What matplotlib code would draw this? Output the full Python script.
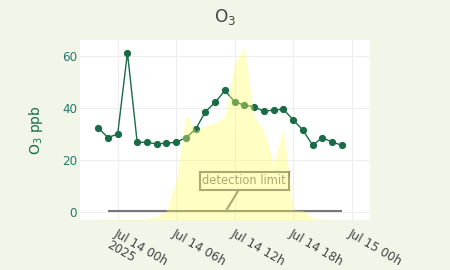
import pandas as pd
import matplotlib
matplotlib.use('Agg')
import matplotlib.pyplot as plt

plt.rcParams['font.family'] = ['DejaVu Sans']

# ozone, hourly
times = pd.date_range('2025-07-13 22:00', '2025-07-14 23:00', freq='h')
o3 = [32.5, 28.7, 30.1, 61.3, 26.9, 26.9, 26.3, 26.6, 26.9, 28.7, 31.9, 38.7, 42.2,
      46.8, 42.4, 41.2, 40.5, 38.8, 39.3, 39.6, 35.5, 31.6, 25.8, 28.7, 27.0, 25.8]

# background sunlight trace (own hidden axis)
sun_times = pd.date_range('2025-07-13 22:00', '2025-07-14 22:00', freq='h')
sun = [0.3, 0.3, 0.3, 0.3, 0.3, 0.4, 1.3, 3.5, 15.3, 40.6, 34.2, 36.2, 37.2,
       39.9, 60.2, 65.8, 39.5, 34.1, 21.7, 34.9, 3.8, 3.6, 0.8, 0.2, 0.2]

det_limit = 0.6
det_times = pd.to_datetime(['2025-07-13 23:00', '2025-07-14 23:00'])
det_note_at = pd.Timestamp('2025-07-14 11:06')

tick_times = pd.to_datetime(['2025-07-14 00:00', '2025-07-14 06:00', '2025-07-14 12:00',
                             '2025-07-14 18:00', '2025-07-15 00:00'])
tick_labels = ['Jul 14 00h\n2025', 'Jul 14 06h', 'Jul 14 12h', 'Jul 14 18h', 'Jul 15 00h']
y_ticks = [0, 20, 40, 60]

bg = '#f1f6e9'
green = '#1a6b47'
gray = '#777777'

fig = plt.figure(figsize=(4.5, 2.7), dpi=100, facecolor=bg)
ax = fig.add_axes([80 / 450, 50 / 270, 290 / 450, 180 / 270])
ax.set_facecolor('white')

ax.plot(times, o3, color=green, lw=1.0, marker='o', ms=4.2, mec=green, mfc=green)
ax.plot(det_times, [det_limit, det_limit], color=gray, lw=1.5, solid_capstyle='butt')
ax.annotate('detection limit', xy=(det_note_at, det_limit), xytext=(13.2, 21.6),
            textcoords='offset points', ha='center', va='center', fontsize=8.3, color=gray,
            bbox=dict(boxstyle='square,pad=0.22', fc='white', ec=gray, lw=1.5),
            arrowprops=dict(arrowstyle='-', color=gray, lw=1.5, shrinkA=0, shrinkB=0))

ax.set_xlim(pd.Timestamp('2025-07-13 20:08'), pd.Timestamp('2025-07-15 01:53'))
ax.set_ylim(-2.88, 66.14)
ax.set_xticks(tick_times)
ax.set_xticklabels(tick_labels, rotation=-30, ha='left', va='top', rotation_mode='anchor',
                   linespacing=1.05)
ax.set_yticks(y_ticks)
ax.tick_params(axis='x', length=0, pad=4.5, labelsize=8.64, labelcolor='#444444')
ax.tick_params(axis='y', length=0, pad=2.2, labelsize=8.64, labelcolor='#237a70')
ax.grid(True, color='#eeeeee', lw=0.8)
ax.set_axisbelow(True)
for s in ax.spines.values():
    s.set_visible(False)

ax.set_ylabel(r'O$_{\mathregular{3}}$ ppb', fontsize=10, color=green)
ax.yaxis.set_label_coords(-0.122, 0.5)

ax2 = ax.twinx()
ax2.fill_between(sun_times, sun, 0, color=(1, 1, 0.4), alpha=0.38, lw=0)
ax2.set_ylim(0, 69)
ax2.set_axis_off()

fig.text(0.5, 1 - 17 / 270, r'O$_{\mathregular{3}}$', ha='center', va='center',
         fontsize=12.2, color='#444444')

fig.savefig('out.png', dpi=100, facecolor=bg)
